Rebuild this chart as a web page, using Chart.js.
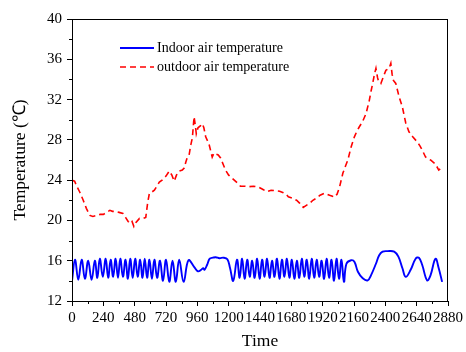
<!DOCTYPE html>
<html>
<head>
<meta charset="utf-8">
<script src="https://cdn.jsdelivr.net/npm/chart.js@4/dist/chart.umd.min.js"></script>
<style>
  html,body{margin:0;padding:0;background:#fff;}
  #wrap{width:466px;height:352px;}
</style>
</head>
<body>
<div id="wrap"><canvas id="c" width="466" height="352"></canvas></div>
<script>
// time (min) / temperature (°C)
const indoorTime = [0,23,48,74,99,124,150,175,194,213,236,258,277,296,315,334,352,370,390,410,428,446,465,484,503,522,540,557,575,593,612,631,652,674,697,720,745,770,795,821,855,892,935,965,990,1005,1015,1035,1055,1080,1100,1130,1160,1190,1210,1235,
  1264,1284,1303,1322,1342,1361,1380,1399,1418,1437,1456,1475,1494,1513,1532,1551,1570,1589,1608,1627,1646,1665,1684,1703,1722,1741,1760,1779,1798,1817,1836,1855,1874,1893,1912,1931,1950,1969,1988,2007,2026,2045,2064,2083,2102,
  2138,2163,2190,2227,2265,2290,2328,2353,2379,2417,2468,2500,2531,2556,2594,2632,2657,2682,2720,2746,2784,2809,2835,2860,2878];
const indoorTemp = [14.0,16.1,14.1,16.1,14.2,16.0,14.1,16.0,14.3,16.2,14.4,16.2,14.3,16.1,14.4,16.2,14.3,16.2,14.4,16.1,14.2,16.2,14.3,16.2,14.4,16.1,14.3,16.2,14.3,16.1,14.2,16.1,14.3,16.0,14.0,16.1,13.9,16.0,13.9,16.1,13.9,16.05,15.4,14.95,15.1,15.25,15.1,15.6,16.2,16.3,16.35,16.25,16.3,16.15,15.3,14.0,
  16.1,14.3,16.2,14.2,16.1,14.4,16.0,14.3,16.2,14.2,16.1,14.4,16.2,14.3,16.0,14.4,16.2,14.2,16.1,14.4,16.2,14.3,16.1,14.2,16.0,14.3,16.2,14.4,16.1,14.2,16.2,14.3,16.1,14.4,16.0,14.2,16.2,14.3,16.1,14.0,16.2,14.2,16.1,
  13.9,15.7,16.05,15.9,14.9,14.25,14.05,14.55,15.7,16.55,16.9,16.95,16.9,16.4,15.25,14.4,15.1,16.2,16.3,15.6,14.05,14.55,16.2,15.25,13.9];

const outdoorTime = [0,20,36,60,86,110,137,160,190,215,240,265,290,310,330,360,390,410,430,445,460,474,490,517,547,565,580,593,610,631,650,669,690,720,745,765,783,800,821,845,859,872,884,897,910,922,935,945,952,965,985,998,1010,1024,1049,1074,1088,1100,1120,1138,1160,1176,1200,1226,1260,1290,1320,1353,1390,1429,1460,1492,1525,1556,1590,1619,1640,1657,1690,1720,1745,1771,1795,1821,1845,1872,1900,1935,1955,1973,1995,2011,2030,2049,2062,2075,2095,2113,2138,2163,2180,2201,2225,2252,2277,2290,2303,2318,2328,2340,2346,2366,2386,2404,2429,2442,2452,2462,2480,2505,2530,2556,2581,2610,2644,2665,2682,2708,2746,2784,2809,2835];
const outdoorTemp = [24.0,23.9,23.4,22.8,22.0,21.2,20.5,20.4,20.5,20.6,20.6,20.8,21.0,20.9,20.9,20.8,20.7,20.3,19.9,19.7,19.9,19.4,19.8,20.2,20.2,20.3,21.8,22.7,22.8,23.0,23.4,23.8,24.0,24.4,24.9,24.5,23.9,24.5,24.9,25.0,25.2,25.8,26.3,26.5,27.5,28.2,30.3,29.4,28.6,29.2,29.4,29.6,29.2,28.3,27.6,26.3,26.7,26.6,26.5,26.2,25.5,25.0,24.5,24.2,23.8,23.4,23.4,23.35,23.4,23.3,23.1,22.85,23.0,22.95,22.9,22.75,22.6,22.35,22.2,22.0,21.7,21.3,21.5,21.7,22.0,22.2,22.5,22.7,22.6,22.5,22.4,22.3,22.6,23.3,24.0,24.7,25.4,26.0,27.3,28.3,28.8,29.3,29.8,30.6,31.9,32.8,33.6,34.6,35.1,34.2,33.9,33.6,34.3,34.9,35.1,35.6,34.5,33.9,33.6,32.3,31.3,29.7,28.8,28.3,27.8,27.4,27.0,26.3,26.0,25.6,25.0,25.3];

const seriesNames = ["Indoor air temperature","outdoor air temperature"];
const xTicks = {min:0, max:2880, step:240};
const yTicks = {min:12, max:40, step:4};

const pts = (t,v) => t.map((x,i)=>({x, y:v[i]}));
const serif = "'Liberation Serif','Times New Roman',serif";

Chart.defaults.font.family = serif;
Chart.defaults.color = "#000";

/* frame, minor ticks and legend */
const extras = {
  id:'extras',
  afterDraw(chart){
    const {ctx, chartArea:a, scales:{x,y}} = chart;
    ctx.save();
    ctx.strokeStyle = '#000'; ctx.lineWidth = 1;
    ctx.strokeRect(a.left+0.5, a.top+0.5, a.right-a.left-1, a.bottom-a.top);
    ctx.beginPath();
    for(let v=xTicks.min+xTicks.step/2; v<xTicks.max; v+=xTicks.step){
      const px = Math.round(x.getPixelForValue(v))+0.5;
      ctx.moveTo(px, a.bottom); ctx.lineTo(px, a.bottom+3);
    }
    for(let v=yTicks.min+yTicks.step/2; v<yTicks.max; v+=yTicks.step){
      const py = Math.round(y.getPixelForValue(v))+0.5;
      ctx.moveTo(a.left, py); ctx.lineTo(a.left-3, py);
    }
    ctx.stroke();

    // legend
    ctx.font = "14px " + serif;
    ctx.textBaseline = 'middle';
    chart.data.datasets.forEach((ds,i)=>{
      const ly = a.top + 29 + i*19;
      const lx = a.left + 48;
      ctx.strokeStyle = ds.borderColor; ctx.lineWidth = ds.borderWidth;
      ctx.setLineDash(ds.borderDash || []);
      ctx.beginPath(); ctx.moveTo(lx, ly); ctx.lineTo(lx+34, ly); ctx.stroke();
      ctx.setLineDash([]);
      ctx.fillStyle = '#000';
      ctx.fillText(ds.label, lx+37, ly);
    });
    ctx.restore();
  }
};

new Chart(document.getElementById('c'), {
  type:'line',
  data:{datasets:[
    {label:seriesNames[0], data:pts(indoorTime,indoorTemp), borderColor:'#0000ff', borderWidth:1.9,
     pointRadius:0, tension:0.4},
    {label:seriesNames[1], data:pts(outdoorTime,outdoorTemp), borderColor:'#ff0000', borderWidth:1.6,
     borderDash:[6,4], pointRadius:0, tension:0}
  ]},
  options:{
    responsive:false, animation:false,
    layout:{padding:{top:19, right:15, left:0, bottom:0}},
    plugins:{legend:{display:false}, tooltip:{enabled:false}},
    scales:{
      x:{type:'linear', min:xTicks.min, max:xTicks.max,
         ticks:{stepSize:xTicks.step, font:{family:serif, size:15}, maxRotation:0, autoSkip:false, padding:3,
                callback:v=>String(v)},
         grid:{drawOnChartArea:false, tickLength:5, color:'#000'},
         border:{color:'#000'},
         title:{display:true, text:'Time', font:{family:serif, size:17.5}, padding:{top:0,bottom:0}},
         afterFit(s){ s.height = 51; }},
      y:{min:yTicks.min, max:yTicks.max,
         ticks:{stepSize:yTicks.step, font:{family:serif, size:15}, padding:5, callback:v=>String(v)},
         grid:{drawOnChartArea:false, tickLength:5, color:'#000'},
         border:{color:'#000'},
         title:{display:true, text:'Temperature (℃)', font:{family:serif, size:17.5}, padding:{top:10,bottom:0}},
         afterFit(s){ s.width = 72; }}
    }
  },
  plugins:[extras]
});
</script>
</body>
</html>
